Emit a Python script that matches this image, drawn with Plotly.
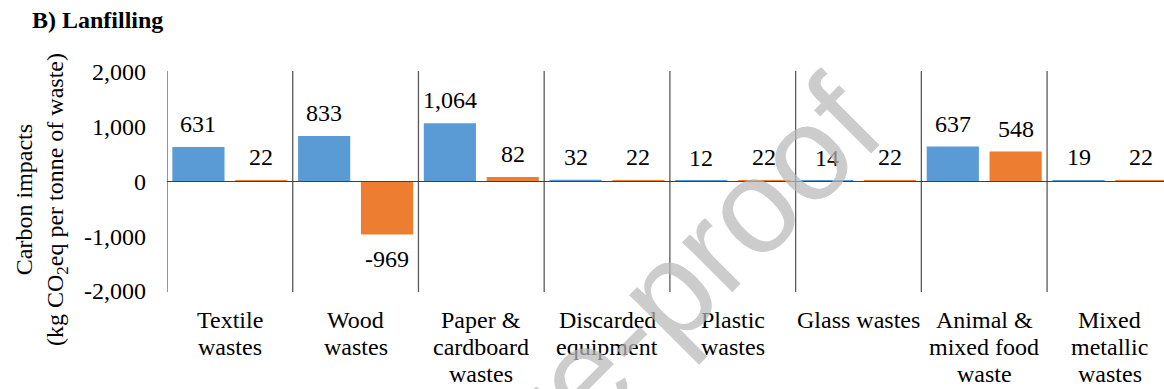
import plotly.graph_objects as go

# Waste categories (x-axis labels, one entry per line) and carbon impacts per tonne of waste
categories = [
    ["Textile", "wastes"],
    ["Wood", "wastes"],
    ["Paper &amp;", "cardboard", "wastes"],
    ["Discarded", "equipment"],
    ["Plastic", "wastes"],
    ["Glass wastes"],
    ["Animal &amp;", "mixed food", "waste"],
    ["Mixed", "metallic", "wastes"],
]
first_values = [631, 833, 1064, 32, 12, 14, 637, 19]
second_values = [22, -969, 82, 22, 22, 22, 548, 22]

y_tick_values = [-2000, -1000, 0, 1000, 2000]
y_tick_labels = ["-2,000", "-1,000", "0", "1,000", "2,000"]

BLUE = "#5B9BD5"
ORANGE = "#ED7D31"
SERIF = "Liberation Serif"
FONT_SIZE = 24

W, H = 1164, 389
M_L, M_R, M_T, M_B = 167, 0, 72, 98
plot_w = W - M_L - M_R
plot_h = H - M_T - M_B

x_pos = list(range(len(categories)))

fig = go.Figure()
fig.add_trace(go.Bar(x=x_pos, y=first_values, name="first", marker_color=BLUE,
                     marker_line_width=0))
fig.add_trace(go.Bar(x=x_pos, y=second_values, name="second", marker_color=ORANGE,
                     marker_line_width=0))


def fmt(v):
    return f"{v:,}"


def paper_y(px):
    # pixel row (from top of the figure) -> paper coordinate
    return (H - M_B - px) / plot_h


text_font = dict(family=SERIF, size=FONT_SIZE, color="#000000")

annotations = []
# Value labels above / below each bar
for i, (a, b) in enumerate(zip(first_values, second_values)):
    for off, v in ((-0.25, a), (0.25, b)):
        annotations.append(dict(
            x=i + off, y=v, xref="x", yref="y", text=fmt(v), showarrow=False,
            yshift=23 if v >= 0 else -24, xanchor="center", yanchor="middle",
            font=text_font,
        ))

# Category labels under the axis, tighter line spacing than tick labels allow
FIRST_LINE_Y, LINE_STEP = 320, 27
for i, lines in enumerate(categories):
    for k, line in enumerate(lines):
        annotations.append(dict(
            x=i, y=paper_y(FIRST_LINE_Y + LINE_STEP * k), xref="x", yref="paper",
            text=line, showarrow=False, xanchor="center", yanchor="middle",
            font=text_font,
        ))

# Two-line rotated y-axis title
annotations.append(dict(
    text="Carbon impacts<br>(kg CO<sub>2</sub>eq per tonne of waste)",
    xref="paper", yref="paper",
    x=(41 - M_L) / plot_w, y=paper_y(199),
    xanchor="center", yanchor="middle", showarrow=False, textangle=-90,
    font=text_font,
))

# Diagonal watermark
annotations.append(dict(
    text="Journal Pre-proof",
    xref="paper", yref="paper",
    x=(490 - M_L) / plot_w, y=paper_y(468),
    xanchor="center", yanchor="middle", showarrow=False, textangle=-45,
    font=dict(family="Liberation Sans", size=134,
              color="rgba(185,185,185,0.72)"),
))

shapes = []
# Category separators
for i in range(len(categories)):
    shapes.append(dict(type="line", xref="x", yref="paper", x0=i - 0.5, x1=i - 0.5,
                       y0=-0.005, y1=1.005, line=dict(color="#5a5a5a", width=1.3),
                       layer="above"))
# Zero baseline
shapes.append(dict(type="line", xref="paper", yref="y", x0=0, x1=1, y0=0, y1=0,
                   line=dict(color="#404040", width=1.2), layer="above"))

fig.update_layout(
    width=W, height=H,
    margin=dict(l=M_L, r=M_R, t=M_T, b=M_B),
    paper_bgcolor="white", plot_bgcolor="white",
    barmode="group", bargap=0.0, bargroupgap=0.17,
    showlegend=False,
    title=dict(text="<b>B) Lanfilling</b>", xref="container", yref="container",
               x=32 / W, y=1 - 20 / H, xanchor="left", yanchor="middle",
               font=text_font),
    font=text_font,
    annotations=annotations,
    shapes=shapes,
)
fig.update_xaxes(
    range=[-0.5, 7.43], tickmode="array", tickvals=x_pos, showticklabels=False,
    showgrid=False, zeroline=False, showline=False, ticks="",
)
fig.update_yaxes(
    range=[-2000, 2000], tickmode="array", tickvals=y_tick_values,
    ticktext=y_tick_labels, showgrid=False, zeroline=False, showline=False,
    ticks="", ticklabelstandoff=20, tickfont=text_font,
)

fig.write_html("out.html")
